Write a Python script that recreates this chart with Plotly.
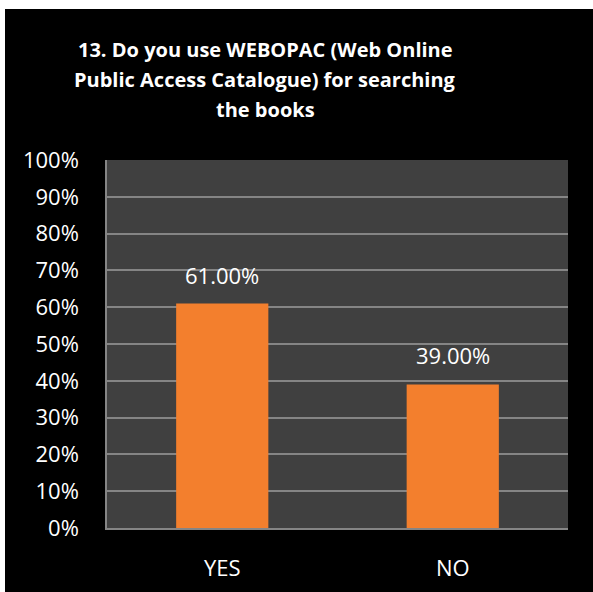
import plotly.graph_objects as go

# ── data ─────────────────────────────────────────────────────────────────────
categories = ["YES", "NO"]
shares = [61.00, 39.00]          # percent of respondents
y_ticks = list(range(0, 101, 10))
y_tick_labels = [f"{v}%" for v in y_ticks]

TITLE_LINES = [
    "13. Do you use WEBOPAC (Web Online",
    "Public Access Catalogue) for searching",
    "the books",
]

FONT = "Open Sans, Liberation Sans, sans-serif"
BAR_COLOR = "#F37F2D"
GRID_COLOR = "#858585"

# canvas and plot area in pixels
W, H = 593, 592
L, R, T, B = 107, 25, 160, 64
pw, ph = W - L - R, H - T - B


def px_x(v):
    return (v - L) / pw


def px_y(v):
    return (H - B - v) / ph


fig = go.Figure(
    go.Bar(
        x=categories,
        y=shares,
        marker=dict(color=BAR_COLOR, line=dict(width=0)),
        width=0.4,
        hoverinfo="skip",
    )
)

# value labels above bars
for cat, val in zip(categories, shares):
    fig.add_annotation(
        x=cat, y=val, text=f"{val:.2f}%",
        showarrow=False, yanchor="bottom", yshift=12,
        font=dict(family=FONT, size=22, color="white"),
    )

# title, one annotation per line for Excel-like line spacing
for i, line in enumerate(TITLE_LINES):
    fig.add_annotation(
        text=f"<b>{line}</b>", xref="paper", yref="paper",
        x=px_x(265), y=px_y(49 + 30 * i),
        xanchor="center", yanchor="middle", showarrow=False,
        font=dict(family=FONT, size=20, color="white"),
    )

# white strips along top and left (the original image is cropped that way)
fig.add_shape(type="rect", xref="paper", yref="paper",
              x0=px_x(-20), x1=px_x(620), y0=px_y(9), y1=px_y(-20),
              fillcolor="white", line_width=0, layer="below")
fig.add_shape(type="rect", xref="paper", yref="paper",
              x0=px_x(-20), x1=px_x(5), y0=px_y(620), y1=px_y(-20),
              fillcolor="white", line_width=0, layer="below")

fig.update_layout(
    width=W, height=H,
    margin=dict(l=L, r=R, t=T, b=B, autoexpand=False),
    paper_bgcolor="black",
    plot_bgcolor="#404040",
    showlegend=False,
    font=dict(family=FONT, color="white"),
)
fig.update_xaxes(
    showline=True, linecolor=GRID_COLOR, linewidth=1.5,
    tickfont=dict(size=22, color="white"),
    ticks="", ticklabelstandoff=20,
    showgrid=False,
)
fig.update_yaxes(
    range=[0, 100], tickmode="array",
    tickvals=y_ticks, ticktext=y_tick_labels,
    showline=True, linecolor=GRID_COLOR, linewidth=1.5,
    gridcolor=GRID_COLOR, gridwidth=1.5,
    tickfont=dict(size=22, color="white"),
    ticks="", ticklabelstandoff=22,
    zeroline=False,
)

# drop the default page margin so the figure sits at the window corner
fig.write_html(
    "out.html",
    config={"displayModeBar": False},
    post_script="document.body.style.margin='0';"
                "document.body.style.overflow='hidden';",
)
